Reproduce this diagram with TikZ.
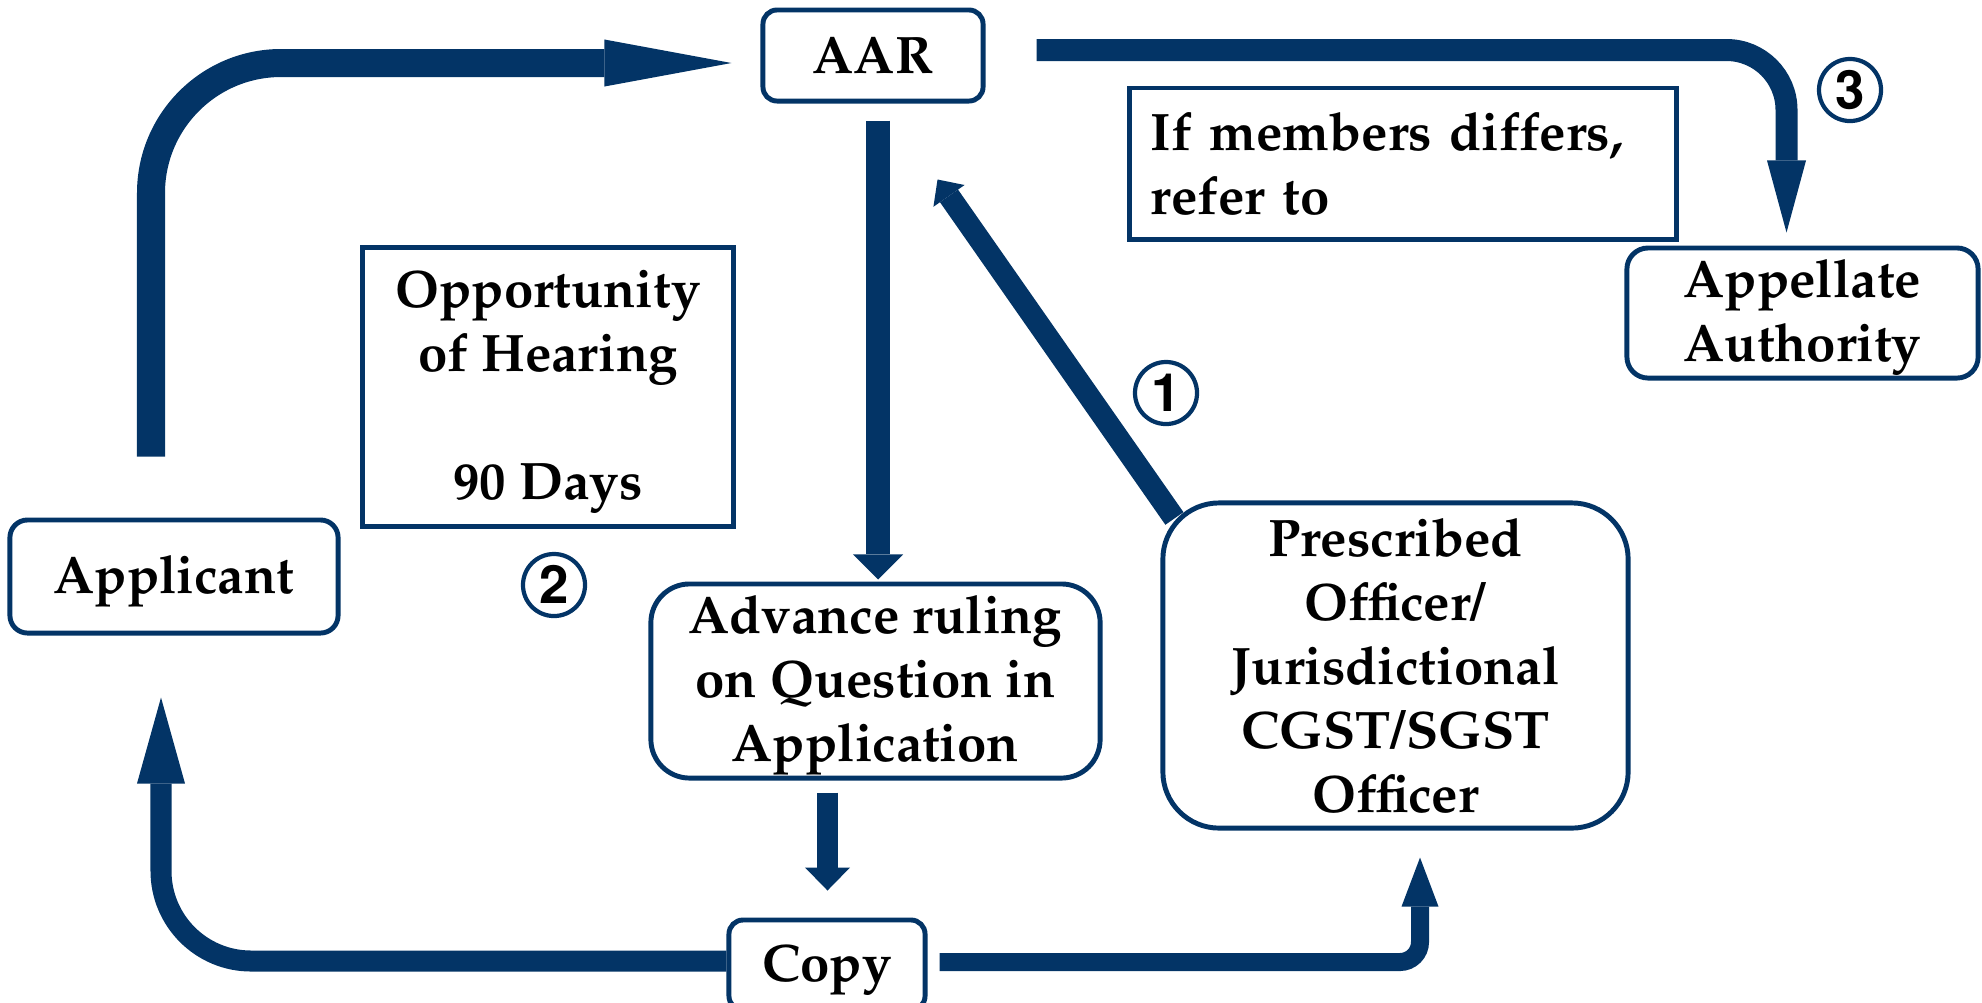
\documentclass[tikz,border=0pt]{standalone}
\usepackage[T1]{fontenc}
\usepackage{mathpazo}
\usetikzlibrary{arrows.meta,positioning,calc,backgrounds}
\definecolor{arNavy}{HTML}{033466}
\tikzset{
  box/.style={draw=arNavy, line width=1.4pt, fill=white, rounded corners=#1, align=center, inner sep=0pt, font=\fontsize{15}{18.2}\selectfont\bfseries},
  box/.default=4pt,
  sqbox/.style={box=0pt},
  lowtxt/.style={text depth=0.12em},
  numc/.style={circle, draw=arNavy, line width=1.2pt, fill=white, minimum size=0.62cm, inner sep=0pt, font=\fontfamily{phv}\fontsize{15}{18}\selectfont\bfseries},
  flow/.style n args={4}{draw=arNavy, line width=#1, -{Triangle[length=#2, width=#3, line width=0pt]}, rounded corners=#4},
}
\begin{document}
\begin{tikzpicture}[x=0.01cm,y=-0.01cm]
        \useasboundingbox (0,0) rectangle (1982,1002);
        % boxes
        \node[box, minimum width=2.2cm, minimum height=0.91cm] (aar) at (873,55.5) {AAR};
        \node[box=5pt, lowtxt, minimum width=3.28cm, minimum height=1.13cm] (app) at (174,576.5) {Applicant};
        \node[sqbox, lowtxt, minimum width=3.7cm, minimum height=2.78cm] (opp) at (548,387) {Opportunity\\of Hearing\\[18.2pt]90 Days};
        \node[box=11pt, lowtxt, minimum width=4.49cm, minimum height=1.94cm] (adv) at (875.5,681) {Advance ruling\\on Question in\\Application};
        \node[box=16pt, minimum width=4.65cm, minimum height=3.25cm] (pres) at (1395.5,665.5) {Prescribed\\Officer/\\Jurisdictional\\CGST/SGST\\Officer};
        \node[box=6pt, lowtxt, minimum width=3.51cm, minimum height=1.30cm] (appl) at (1802.5,313) {Appellate\\Authority};
        \node[sqbox, text width=5.04cm, inner xsep=0.21cm, minimum height=1.51cm, align=left] (diff) at (1403,163.5) {If members differs,\\refer to};
        \node[box, lowtxt, minimum width=1.96cm, minimum height=0.9cm] (copy) at (827,965) {Copy};
        % step numbers
        \node[numc] (n1) at (1166,393) {1};
        \node[numc] (n2) at (554,585) {2};
        \node[numc] (n3) at (1850,90) {3};
        % connectors
        \begin{scope}[on background layer]
            \draw[flow={0.28cm}{1.27cm}{0.47cm}{1.3cm}] ($(app.north)+(-23,-61)$) |- ($(aar.west)+(-29,7.5)$);
            \draw[flow={0.22cm}{0.72cm}{0.39cm}{0.6cm}] ($(aar.east)+(51,-5.5)$) -| ($(appl.north)+(-16,-13)$);
            \draw[flow={0.24cm}{0.25cm}{0.50cm}{0}] ($(aar.south)+(5,17)$) -- ($(adv.north)+(2.5,-2)$);
            \draw[flow={0.21cm}{0.23cm}{0.45cm}{0}] ($(adv.south)+(-48,12)$) -- ($(copy.north)+(0.5,-27)$);
            \draw[flow={0.21cm}{0.86cm}{0.48cm}{0.9cm}] ($(copy.west)+(0,-4)$) -| ($(app.south)+(-13,62)$);
            \draw[flow={0.18cm}{0.49cm}{0.37cm}{0.2cm}] ($(copy.east)+(12,-3)$) -| ($(pres.south)+(24.5,27)$);
            \draw[flow={0.22cm}{0.20cm}{0.38cm}{0}] ($(pres.north west)+(14,18)$) -- ($(aar.south east)+(-48,76)$);
        \end{scope}
    \end{tikzpicture}
\end{document}
